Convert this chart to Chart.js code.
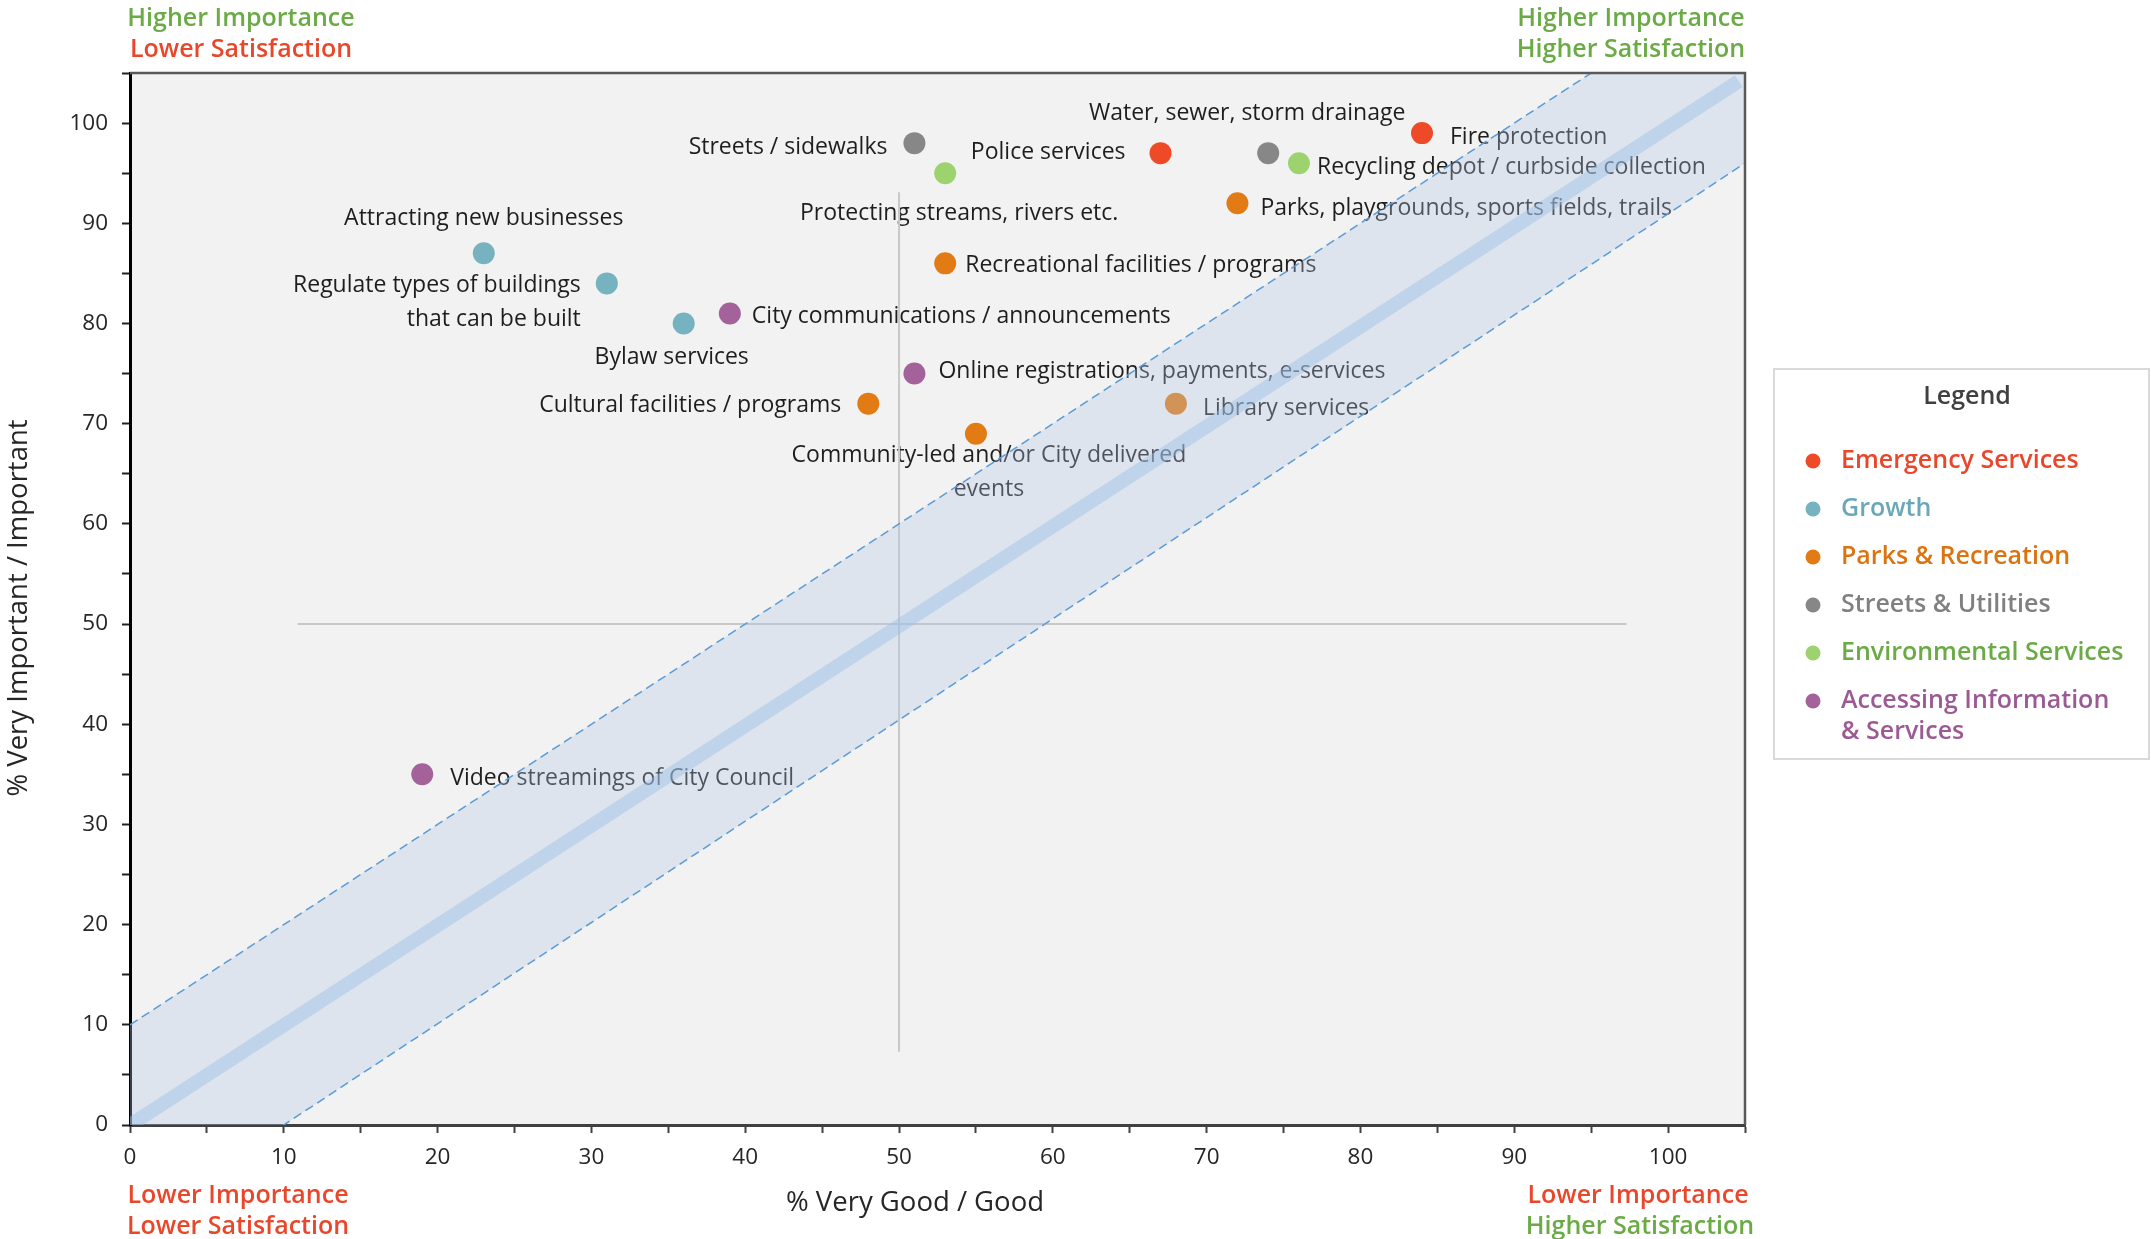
<!DOCTYPE html>
<html>
<head>
<meta charset="utf-8">
<title>Importance vs Satisfaction</title>
<script src="https://cdn.jsdelivr.net/npm/chart.js@4.4.1/dist/chart.umd.min.js"></script>
<style>
  html, body { margin: 0; padding: 0; background: #ffffff; }
  #wrap { width: 2151px; height: 1239px; position: relative; }
</style>
</head>
<body>
<div id="wrap"><canvas id="chart" width="2151" height="1239"></canvas></div>
<script>
// ---- Survey results: each service's satisfaction (% very good / good) and importance ----
const services = [
  'Fire protection',
  'Police services',
  'Water, sewer, storm drainage',
  'Streets / sidewalks',
  'Protecting streams, rivers etc.',
  'Recycling depot / curbside collection',
  'Parks, playgrounds, sports fields, trails',
  'Recreational facilities / programs',
  'Cultural facilities / programs',
  'Library services',
  'Community-led and/or City delivered\nevents',
  'Attracting new businesses',
  'Regulate types of buildings\nthat can be built',
  'Bylaw services',
  'City communications / announcements',
  'Online registrations, payments, e-services',
  'Video streamings of City Council'
];
const satisfaction = [84, 67, 74, 51, 53, 76, 72, 53, 48, 68, 55, 23, 31, 36, 39, 51, 19];
const importance   = [99, 97, 97, 98, 95, 96, 92, 86, 72, 72, 69, 87, 84, 80, 81, 75, 35];
const serviceGroup = [0, 0, 3, 3, 4, 4, 2, 2, 2, 2, 2, 1, 1, 1, 5, 5, 5];

const groups = [
  'Emergency Services',
  'Growth',
  'Parks & Recreation',
  'Streets & Utilities',
  'Environmental Services',
  'Accessing Information\n& Services'
];

// Reference guides: parity line y = x with a +/-10 point band, and the two midpoint lines
const parityLine = [[0, 0], [104.6, 104.2]];
const bandUpper  = [[0, 10], [105, 115]];
const bandLower  = [[0, -10.1], [105, 96]];
const midVertical   = [[50, 7.3], [50, 93.1]];
const midHorizontal = [[10.9, 50], [97.3, 50]];

const xTicks = [0, 10, 20, 30, 40, 50, 60, 70, 80, 90, 100];
const yTicks = [0, 10, 20, 30, 40, 50, 60, 70, 80, 90, 100];

const xTitle = '% Very Good / Good';
const yTitle = '% Very Important / Important';

// ---- Styling ----
const FONT = '"Open Sans", "Noto Sans", "DejaVu Sans", sans-serif';
const groupDotColors  = ['#ee4a27', '#77b2c0', '#e27b13', '#878787', '#9cd36e', '#a4629a'];
const groupTextColors = ['#e8472b', '#6aa8b8', '#da7411', '#808080', '#6aab46', '#9c5a94'];
const GREEN = '#6aab46';
const RED = '#e8472b';

// label anchor per service: [text alignment, dx, dy] in pixels from the dot
const labelPlacement = [
  ['left', 28, 4], ['right', -35, -1], ['center', -21, -40], ['right', -27, 4],
  ['center', 14, 40], ['left', 18, 4], ['left', 23, 5], ['left', 20, 2],
  ['right', -27, 2], ['left', 27, 5], ['center', 13, 22], ['center', 0, -35],
  ['right', -26, 2], ['center', -12, 34], ['left', 22, 3], ['left', 24, -2],
  ['left', 28, 4]
];

const toPoints = arr => arr.map(p => ({ x: p[0], y: p[1] }));

// one scatter dataset per service group
const groupDatasets = groups.map((g, gi) => ({
  type: 'scatter',
  label: g,
  order: 10,
  data: services
    .map((s, i) => ({ x: satisfaction[i], y: importance[i], g: serviceGroup[i] }))
    .filter(p => p.g === gi),
  backgroundColor: groupDotColors[gi],
  borderWidth: 0,
  pointRadius: 11,
  pointHoverRadius: 11
}));

const guideDatasets = [
  { type: 'line', label: 'midV', order: 12, data: toPoints(midVertical),
    borderColor: '#c8c8c8', borderWidth: 2, pointRadius: 0, clip: 0 },
  { type: 'line', label: 'midH', order: 12, data: toPoints(midHorizontal),
    borderColor: '#c8c8c8', borderWidth: 2, pointRadius: 0, clip: 0 }
];

const bandStart = groupDatasets.length + guideDatasets.length;
const bandDatasets = [
  { type: 'line', label: 'bandUpper', order: 4, data: toPoints(bandUpper),
    borderColor: '#5b9bd5', borderWidth: 1.5, borderDash: [9, 5], pointRadius: 0,
    fill: { target: bandStart + 1 }, backgroundColor: 'rgba(176,200,230,0.32)', clip: 0 },
  { type: 'line', label: 'bandLower', order: 3, data: toPoints(bandLower),
    borderColor: '#5b9bd5', borderWidth: 1.5, borderDash: [9, 5], pointRadius: 0,
    fill: false, clip: 0 },
  { type: 'line', label: 'parity', order: 1, data: toPoints(parityLine),
    borderColor: 'rgba(155,194,230,0.45)', borderWidth: 14, borderCapStyle: 'butt',
    pointRadius: 0, fill: false, clip: 0 }
];

// plot background, thin top/right frame and the axis titles
const plotFrame = {
  id: 'plotFrame',
  beforeDraw(chart) {
    const { ctx, chartArea: a } = chart;
    ctx.save();
    ctx.fillStyle = '#f2f2f2';
    ctx.fillRect(a.left, a.top, a.right - a.left, a.bottom - a.top);
    ctx.restore();
  },
  afterDraw(chart) {
    const { ctx, chartArea: a } = chart;
    ctx.save();
    ctx.strokeStyle = '#595959';
    ctx.lineWidth = 2.5;
    ctx.beginPath();
    ctx.moveTo(a.left, a.top);
    ctx.lineTo(a.right, a.top);
    ctx.lineTo(a.right, a.bottom);
    ctx.stroke();

    ctx.fillStyle = '#262626';
    ctx.font = '27.5px ' + FONT;
    ctx.textAlign = 'center';
    ctx.textBaseline = 'middle';
    ctx.fillText(xTitle, 915, 1203);
    ctx.translate(19, 608);
    ctx.rotate(-Math.PI / 2);
    ctx.fillText(yTitle, 0, 0);
    ctx.restore();
  }
};

// service names next to their dots (drawn beneath the band so it tints them)
const serviceLabels = {
  id: 'serviceLabels',
  beforeDatasetsDraw(chart) {
    const { ctx } = chart;
    const xs = chart.scales.x, ys = chart.scales.y;
    ctx.save();
    ctx.font = '23px ' + FONT;
    ctx.fillStyle = '#1e1e1e';
    ctx.textBaseline = 'middle';
    services.forEach((name, i) => {
      const [align, dx, dy] = labelPlacement[i];
      const px = xs.getPixelForValue(satisfaction[i]);
      const py = ys.getPixelForValue(importance[i]);
      ctx.textAlign = align;
      name.split('\n').forEach((line, k) => {
        ctx.fillText(line, px + dx, py + dy + k * 34);
      });
    });
    ctx.restore();
  }
};

// quadrant captions and the boxed legend
const annotations = {
  id: 'annotations',
  afterDraw(chart) {
    const { ctx } = chart;
    ctx.save();
    ctx.textBaseline = 'middle';
    ctx.textAlign = 'center';
    ctx.font = '600 25px ' + FONT;
    const caption = (x, y, text, color) => { ctx.fillStyle = color; ctx.fillText(text, x, y); };
    caption(241, 19, 'Higher Importance', GREEN);
    caption(241, 50, 'Lower Satisfaction', RED);
    caption(1631, 19, 'Higher Importance', GREEN);
    caption(1631, 50, 'Higher Satisfaction', GREEN);
    caption(238, 1196, 'Lower Importance', RED);
    caption(238, 1227, 'Lower Satisfaction', RED);
    caption(1638, 1196, 'Lower Importance', RED);
    caption(1640, 1227, 'Higher Satisfaction', GREEN);

    // legend box
    const box = { left: 1774, top: 369, right: 2149, bottom: 759 };
    ctx.fillStyle = '#ffffff';
    ctx.fillRect(box.left, box.top, box.right - box.left, box.bottom - box.top);
    ctx.strokeStyle = '#d9d9d9';
    ctx.lineWidth = 2;
    ctx.strokeRect(box.left, box.top, box.right - box.left, box.bottom - box.top);

    ctx.fillStyle = '#404040';
    ctx.font = '600 25px ' + FONT;
    ctx.fillText('Legend', 1967, 397);

    ctx.textAlign = 'left';
    ctx.font = '600 25px ' + FONT;
    let y = 461;
    chart.data.datasets.filter(d => d.type === 'scatter').forEach((d, gi) => {
      ctx.fillStyle = d.backgroundColor;
      ctx.beginPath();
      ctx.arc(1813, y, 7.5, 0, Math.PI * 2);
      ctx.fill();
      ctx.fillStyle = groupTextColors[gi];
      const lines = d.label.split('\n');
      lines.forEach((line, k) => ctx.fillText(line, 1841, y + k * 31));
      y += 48;
    });
    ctx.restore();
  }
};

function build() {
  new Chart(document.getElementById('chart'), {
    type: 'scatter',
    data: { datasets: [...groupDatasets, ...guideDatasets, ...bandDatasets] },
    options: {
      responsive: false,
      animation: false,
      events: [],
      layout: { padding: { left: 0, top: 73, right: 406, bottom: 0 } },
      plugins: {
        legend: { display: false },
        tooltip: { enabled: false },
        filler: { propagate: false }
      },
      scales: {
        x: {
          type: 'linear', position: 'bottom', min: 0, max: 105,
          afterFit(scale) { scale.height = 114; },
          ticks: {
            stepSize: 5, autoSkip: false, maxRotation: 0, padding: 11,
            color: '#262626', font: { family: FONT, size: 22.5 },
            callback: v => (xTicks.includes(v) ? String(v) : '')
          },
          grid: { drawOnChartArea: false, drawTicks: true, tickLength: 8, tickColor: '#404040', tickWidth: 2 },
          border: { display: true, color: '#404040', width: 3 },
          title: { display: false }
        },
        y: {
          type: 'linear', position: 'left', min: 0, max: 105,
          afterFit(scale) { scale.width = 130; },
          ticks: {
            stepSize: 5, autoSkip: false, padding: 14,
            color: '#262626', font: { family: FONT, size: 22.5 },
            callback: v => (yTicks.includes(v) ? String(v) : '')
          },
          grid: { drawOnChartArea: false, drawTicks: true, tickLength: 8, tickColor: '#202020', tickWidth: 2 },
          border: { display: true, color: '#000000', width: 3 },
          title: { display: false }
        }
      }
    },
    plugins: [plotFrame, serviceLabels, annotations]
  });
}

const fontLoads = ['23px "Open Sans"', '600 25px "Open Sans"']
  .map(f => (document.fonts ? document.fonts.load(f) : Promise.resolve()));
Promise.all(fontLoads).then(build, build);
</script>
</body>
</html>
